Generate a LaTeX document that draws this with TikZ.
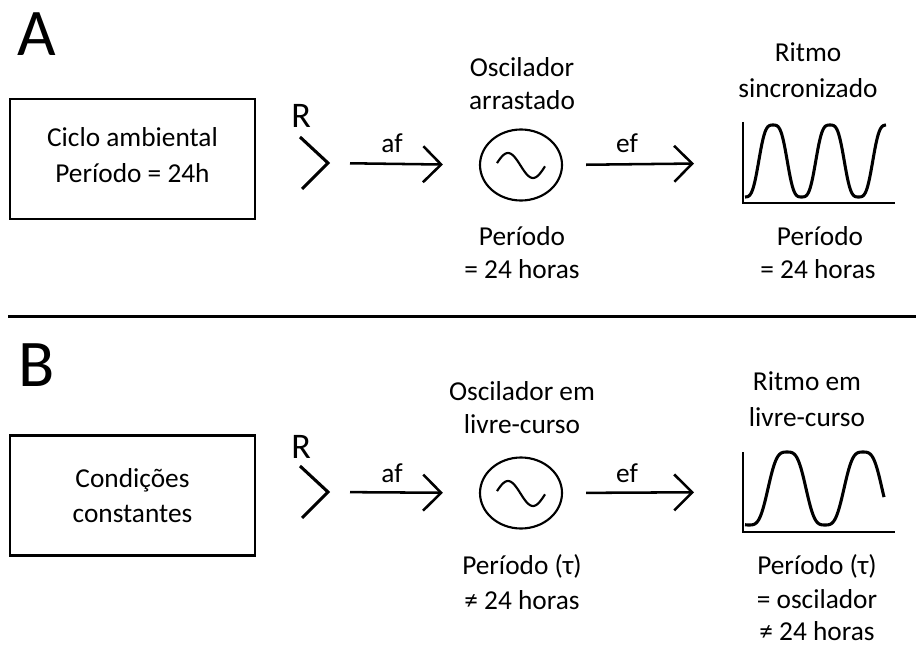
\documentclass[tikz,border=0pt]{standalone}
\usepackage{fontspec}
\setmainfont{Carlito}
\usetikzlibrary{arrows.meta,shapes.geometric,calc}
\tikzset{
  txt/.style={anchor=base, inner sep=0pt, font=\fontsize{20.5pt}{24pt}\selectfont},
  bigletter/.style={anchor=base west, inner sep=0pt, font=\fontsize{50pt}{60pt}\selectfont},
  rlabel/.style={anchor=base west, inner sep=0pt, font=\fontsize{27pt}{30pt}\selectfont},
  envbox/.style={draw, line width=1.6pt, minimum width=183.75pt, minimum height=90pt, inner sep=0pt},
  osc/.style={draw, ellipse, line width=1.6pt, minimum width=61.5pt, minimum height=53.25pt, inner sep=0pt},
  chev/.style={line width=2.3pt, line cap=butt, line join=miter},
  arr/.style={line width=1.9pt, -{Straight Barb[length=13.5pt, width=27pt, line width=1.9pt]}},
  wave/.style={line width=2.3pt, smooth},
  axis/.style={line width=1.8pt},
  sep/.style={line width=1.6pt}
}
\begin{document}
\begin{tikzpicture}[x=0.75pt, y=-0.75pt]
\useasboundingbox (0,0) rectangle (916,645);

% ---------------- Panel A ----------------
\node[bigletter] (lblA) at (17,56) {A};
\node[envbox] (boxA) at (132.5,159) {};
\node[txt] (boxA1) at (132.5,146.5) {Ciclo ambiental};
\node[txt] (boxA2) at (132.5,183) {Período = 24h};

\node[rlabel] (RA) at (291,128) {R};
\coordinate (chA) at (328,163);
\draw[chev] (300,137) -- (chA) -- (302,189);

\node[osc] (oscA) at (521,165) {};
\draw[line width=1.6pt, smooth] plot[domain=497:545, samples=40] (\x, {165.5-12.5*cos((\x-508)/50*360)});

\coordinate (gA) at (743,163);
\draw[arr, shorten <=16.5pt, shorten >=27pt] (chA) -- (oscA.west);
\node[txt] (afA) at (392,153) {af};
\draw[arr, shorten <=17.25pt, shorten >=36.75pt] (oscA.east) -- (gA);
\node[txt] (efA) at (627,153) {ef};

\draw[axis] (743,122) -- (743,203) -- (895,203);
\draw[wave] plot[domain=745:886, samples=150] (\x, {161-36*(cos((\x-773)/57*360)-cos(3*(\x-773)/57*360)/10)/0.9});

\node[txt] (oscAt1) at (522,77) {Oscilador};
\node[txt] (oscAt2) at (522,110) {arrastado};
\node[txt] (ritA1) at (808,62) {Ritmo};
\node[txt] (ritA2) at (808,98) {sincronizado};
\node[txt] (perA1) at (522,245) {Período};
\node[txt] (perA2) at (522,278) {= 24 horas};
\node[txt] (perA3) at (820,245) {Período};
\node[txt] (perA4) at (818,278) {= 24 horas};

% separator
\coordinate (sepL) at (8,316.5);
\coordinate (sepR) at (916,316.5);
\draw[sep] (sepL) -- (sepR);

% ---------------- Panel B ----------------
\node[bigletter] (lblB) at (18,386) {B};
\node[envbox] (boxB) at (132.5,495.5) {};
\node[txt] (boxB1) at (132.5,487) {Condições};
\node[txt] (boxB2) at (132.5,522) {constantes};

\node[rlabel] (RB) at (291,458) {R};
\coordinate (chB) at (328,492);
\draw[chev] (300,466) -- (chB) -- (302,518);

\node[osc] (oscB) at (521,493) {};
\draw[line width=1.6pt, smooth] plot[domain=497:545, samples=40] (\x, {493.5-12.5*cos((\x-508)/50*360)});

\coordinate (gB) at (743,492);
\draw[arr, shorten <=16.5pt, shorten >=27pt] (chB) -- (oscB.west);
\node[txt] (afB) at (392,482) {af};
\draw[arr, shorten <=17.25pt, shorten >=36.75pt] (oscB.east) -- (gB);
\node[txt] (efB) at (627,482) {ef};

\draw[axis] (743,452) -- (743,532) -- (895,532);
\draw[wave] plot[domain=745:884, samples=150] (\x, {488.5-36.5*(cos((\x-787)/76*360)-cos(3*(\x-787)/76*360)/10)/0.9});

\node[txt] (oscBt1) at (522,400) {Oscilador em};
\node[txt] (oscBt2) at (522,433) {livre-curso};
\node[txt] (ritB1) at (807,390) {Ritmo em};
\node[txt] (ritB2) at (807,426) {livre-curso};
\node[txt] (perB1) at (522,574) {Período (τ)};
\node[txt] (perB2) at (522,609) {≠ 24 horas};
\node[txt] (perB3) at (817,574) {Período (τ)};
\node[txt] (perB4) at (817,608) {= oscilador};
\node[txt] (perB5) at (817,640) {≠ 24 horas};
\end{tikzpicture}
\end{document}
